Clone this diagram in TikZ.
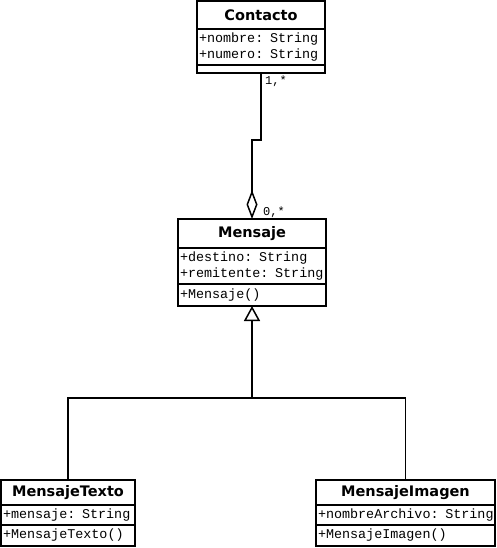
\documentclass[tikz,border=0pt]{standalone}
\usepackage{fontspec}
\setmainfont{DejaVu Sans}
\newfontfamily\umlmono{Liberation Mono}
\usetikzlibrary{positioning}
\usetikzlibrary{arrows.meta}

\tikzset{
	umlbox/.style={draw, line width=1.5pt, inner xsep=2pt, inner ysep=0pt, outer sep=0pt, anchor=north west},
	umltitle/.style={umlbox, font=\bfseries\fontsize{14.5}{16}\selectfont},
	umlpart/.style={umlbox, align=left, font=\umlmono\fontsize{13.4}{16}\selectfont},
	umlmult/.style={font=\umlmono\fontsize{12}{13}\selectfont, inner sep=0pt, anchor=west},
	umlline/.style={line width=1.5pt},
}

\begin{document}
\begin{tikzpicture}[x=1pt,y=-1pt]
	\useasboundingbox (0,0) rectangle (496,548);
	% Contacto
	\node[umltitle,minimum width=128pt,minimum height=28pt] (contacto) at (197,1) {Contacto};
	\node[umlpart,text width=124pt,minimum height=36pt] (contactoatt) at (contacto.south west) {+nombre: String\\+numero: String};
	\node[umlpart,text width=124pt,minimum height=8pt] (contactoops) at (contactoatt.south west) {};
	% Mensaje
	\node[umltitle,minimum width=148pt,minimum height=29pt] (mensaje) at (178,219) {Mensaje};
	\node[umlpart,text width=144pt,minimum height=36pt] (mensajeatt) at (mensaje.south west) {+destino: String\\+remitente: String};
	\node[umlpart,text width=144pt,minimum height=22pt] (mensajeops) at (mensajeatt.south west) {+Mensaje()};
	% MensajeTexto
	\node[umltitle,minimum width=134pt,minimum height=25pt] (mtexto) at (1,480) {MensajeTexto};
	\node[umlpart,text width=130pt,minimum height=20pt] (mtextoatt) at (mtexto.south west) {+mensaje: String};
	\node[umlpart,text width=130pt,minimum height=21pt] (mtextoops) at (mtextoatt.south west) {+MensajeTexto()};
	% MensajeImagen
	\node[umltitle,minimum width=179pt,minimum height=25pt] (mimagen) at (316,480) {MensajeImagen};
	\node[umlpart,text width=175pt,minimum height=20pt] (mimagenatt) at (mimagen.south west) {\mbox{+nombreArchivo: String}};
	\node[umlpart,text width=175pt,minimum height=21pt] (mimagenops) at (mimagenatt.south west) {+MensajeImagen()};

	% aggregation
	\coordinate (elbow) at (261,140);
	\draw[umlline,-{Diamond[open,length=29pt,width=11pt,line width=1.5pt]}] (contactoops.south -| elbow) -- (elbow) -- (elbow -| mensaje.north) -- (mensaje.north);
	\node[umlmult] (multa) at (265,81) {1,*};
	\node[umlmult] (multb) at (263,212) {0,*};

	% generalization
	\coordinate (join) at (252,398);
	\draw[umlline] (mtexto.north) |- (join);
	\draw[umlline] (mimagen.north) |- (join);
	\draw[umlline,-{Triangle[open,length=15pt,width=16pt,line width=1.5pt]}] (join) -- (mensajeops.south);
\end{tikzpicture}
\end{document}
